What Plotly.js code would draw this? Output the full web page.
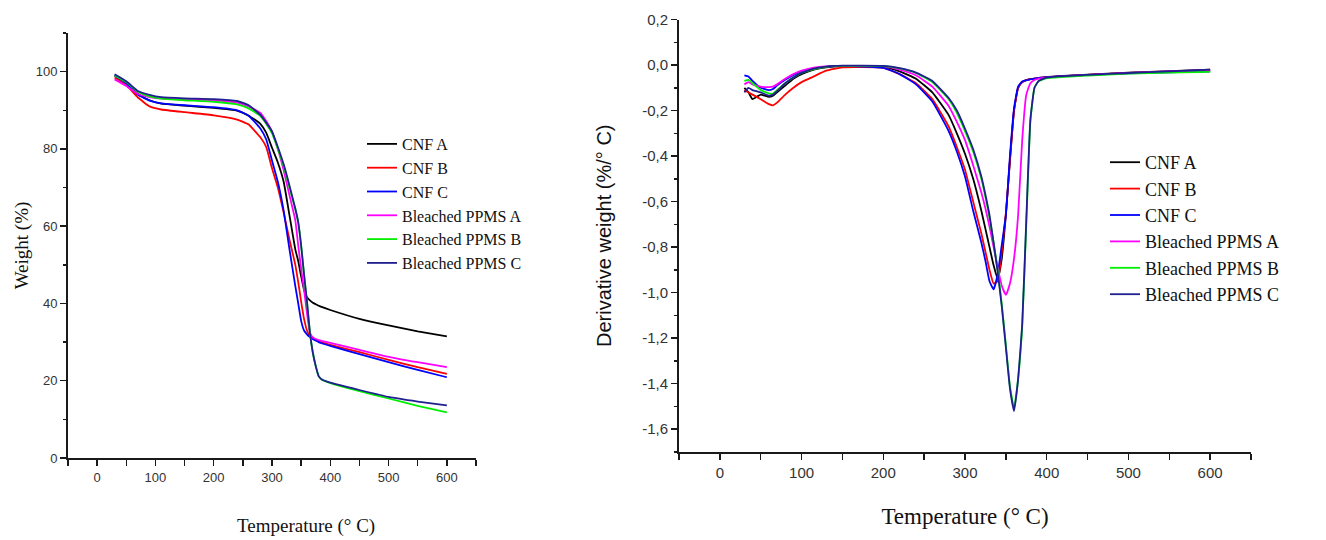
<!DOCTYPE html>
<html>
<head>
<meta charset="utf-8">
<script src="https://cdn.plot.ly/plotly-3.0.1.min.js"></script>
<style>html,body{margin:0;padding:0;background:#fff;}#chart{width:1326px;height:540px;}</style>
</head>
<body>
<div id="chart"></div>
<script>
// ---- Data: TGA (weight %) ----
const seriesNames = ["CNF A", "CNF B", "CNF C", "Bleached PPMS A", "Bleached PPMS B", "Bleached PPMS C"];
const seriesColors = ["#000000", "#ff0000", "#0000ff", "#ff00ff", "#00ee00", "#1f1f8f"];

const tgaT = [30, 50, 70, 90, 110, 150, 200, 240, 260, 280, 290, 300, 310, 320, 330, 340, 345, 350, 355, 360, 365, 370, 375, 380, 385, 400, 450, 500, 550, 600];
const cnfA_w  = [99.0, 97.0, 94.3, 92.6, 91.7, 91.2, 90.6, 89.9, 88.6, 86.5, 84.2, 80.3, 76.5, 71.5, 62.8, 54.0, 51.0, 47.0, 43.5, 41.6, 40.8, 40.2, 39.8, 39.4, 39.1, 38.3, 36.0, 34.3, 32.8, 31.5];
const cnfB_w  = [98.5, 96.5, 93.3, 91.0, 90.2, 89.5, 88.7, 87.6, 86.3, 83.0, 80.5, 75.0, 70.0, 63.5, 56.5, 50.0, 45.5, 40.5, 36.0, 33.0, 31.5, 30.9, 30.5, 30.2, 29.9, 29.3, 27.4, 25.4, 23.5, 21.8];
const cnfC_w  = [99.0, 97.0, 94.0, 92.5, 91.8, 91.3, 90.8, 90.0, 88.6, 85.3, 82.5, 77.0, 71.5, 64.0, 54.0, 44.5, 40.0, 35.5, 33.0, 32.0, 31.3, 30.8, 30.4, 30.0, 29.7, 29.0, 26.9, 24.8, 22.8, 20.9];
const ppmsA_w = [98.0, 96.3, 94.2, 93.4, 93.0, 92.8, 92.6, 92.0, 91.0, 89.3, 87.2, 84.5, 80.0, 74.5, 68.0, 61.5, 55.0, 49.0, 43.5, 37.5, 32.5, 31.2, 30.8, 30.5, 30.3, 29.8, 28.0, 26.2, 24.8, 23.5];
const ppmsB_w = [99.0, 97.3, 94.8, 93.6, 93.0, 92.6, 92.2, 91.5, 90.5, 88.5, 86.5, 84.0, 80.0, 75.5, 70.0, 64.5, 61.0, 55.0, 47.5, 40.5, 32.5, 27.3, 23.8, 21.2, 20.3, 19.4, 17.3, 15.4, 13.5, 11.8];
const ppmsC_w = [99.3, 97.5, 95.0, 94.0, 93.4, 93.1, 92.9, 92.4, 91.3, 88.8, 86.8, 84.5, 80.5, 76.0, 70.5, 64.5, 61.0, 55.0, 47.5, 40.5, 32.5, 27.3, 23.8, 21.2, 20.4, 19.5, 17.6, 15.8, 14.6, 13.6];

// ---- Data: DTG (derivative weight %/°C) ----
const dtgT = [30, 35, 40, 50, 60, 65, 70, 80, 90, 100, 115, 130, 150, 200, 220, 240, 260, 280, 290, 300, 310, 320, 325, 330, 335, 340, 345, 350, 355, 360, 365, 370, 375, 380, 385, 390, 400, 450, 500, 550, 600];
const cnfA_d  = [-0.10, -0.12, -0.15, -0.13, -0.14, -0.135, -0.12, -0.09, -0.06, -0.04, -0.02, -0.01, -0.005, -0.008, -0.028, -0.06, -0.12, -0.22, -0.30, -0.39, -0.50, -0.64, -0.72, -0.80, -0.88, -0.94, -0.85, -0.66, -0.42, -0.20, -0.10, -0.075, -0.066, -0.062, -0.06, -0.057, -0.052, -0.042, -0.033, -0.027, -0.02];
const cnfB_d  = [-0.11, -0.12, -0.13, -0.15, -0.172, -0.177, -0.165, -0.13, -0.10, -0.075, -0.05, -0.025, -0.01, -0.012, -0.04, -0.08, -0.15, -0.27, -0.36, -0.46, -0.60, -0.74, -0.82, -0.90, -0.96, -0.95, -0.82, -0.65, -0.42, -0.20, -0.10, -0.075, -0.066, -0.062, -0.06, -0.057, -0.053, -0.043, -0.035, -0.03, -0.025];
const cnfC_d  = [-0.045, -0.05, -0.07, -0.10, -0.11, -0.105, -0.09, -0.065, -0.045, -0.03, -0.015, -0.008, -0.004, -0.012, -0.04, -0.085, -0.16, -0.29, -0.38, -0.49, -0.64, -0.78, -0.86, -0.95, -0.985, -0.92, -0.79, -0.66, -0.40, -0.19, -0.095, -0.072, -0.067, -0.063, -0.06, -0.057, -0.053, -0.044, -0.037, -0.032, -0.028];
const ppmsA_d = [-0.085, -0.075, -0.085, -0.095, -0.097, -0.095, -0.085, -0.06, -0.04, -0.025, -0.012, -0.006, -0.004, -0.005, -0.02, -0.045, -0.095, -0.18, -0.25, -0.33, -0.44, -0.56, -0.63, -0.71, -0.80, -0.89, -0.97, -1.01, -0.96, -0.85, -0.66, -0.33, -0.13, -0.08, -0.066, -0.06, -0.055, -0.043, -0.035, -0.028, -0.022];
const ppmsB_d = [-0.07, -0.065, -0.08, -0.11, -0.125, -0.125, -0.11, -0.08, -0.055, -0.035, -0.018, -0.008, -0.004, -0.005, -0.015, -0.035, -0.075, -0.15, -0.21, -0.29, -0.38, -0.50, -0.58, -0.67, -0.78, -0.90, -1.05, -1.23, -1.41, -1.51, -1.38, -1.15, -0.70, -0.25, -0.10, -0.072, -0.058, -0.046, -0.038, -0.033, -0.03];
const ppmsC_d = [-0.12, -0.10, -0.11, -0.12, -0.135, -0.13, -0.115, -0.08, -0.055, -0.035, -0.016, -0.007, -0.003, -0.004, -0.014, -0.033, -0.07, -0.145, -0.20, -0.28, -0.37, -0.49, -0.57, -0.66, -0.78, -0.91, -1.06, -1.24, -1.42, -1.52, -1.38, -1.14, -0.68, -0.24, -0.10, -0.07, -0.055, -0.043, -0.035, -0.028, -0.02];

// ---- Tick labels ----
const tempTicks = [0, 100, 200, 300, 400, 500, 600];
const weightTicks = [0, 20, 40, 60, 80, 100];
const derivTicks = [0.2, 0, -0.2, -0.4, -0.6, -0.8, -1.0, -1.2, -1.4, -1.6];
const derivTickText = ["0,2", "0,0", "-0,2", "-0,4", "-0,6", "-0,8", "-1,0", "-1,2", "-1,4", "-1,6"];

const tgaSeries = [cnfA_w, cnfB_w, cnfC_w, ppmsA_w, ppmsB_w, ppmsC_w];
const dtgSeries = [cnfA_d, cnfB_d, cnfC_d, ppmsA_d, ppmsB_d, ppmsC_d];

const SERIF = "Liberation Serif, Times New Roman, serif";
const SANS = "Liberation Sans, Arial, sans-serif";

const traces = [];
tgaSeries.forEach((w, i) => {
  traces.push({
    x: tgaT, y: w, name: seriesNames[i], type: "scatter", mode: "lines",
    line: {color: seriesColors[i], width: 1.8, shape: "spline", smoothing: 0.4},
    xaxis: "x", yaxis: "y", legend: "legend"
  });
});
dtgSeries.forEach((d, i) => {
  traces.push({
    x: dtgT, y: d, name: seriesNames[i], type: "scatter", mode: "lines",
    line: {color: seriesColors[i], width: 1.8, shape: "spline", smoothing: 0.4},
    xaxis: "x2", yaxis: "y2", legend: "legend2"
  });
});

const axisBase = {
  showline: true, linecolor: "#1a1a1a", linewidth: 2,
  ticks: "outside", ticklen: 6, tickwidth: 1.5, tickcolor: "#1a1a1a",
  showgrid: false, zeroline: false, mirror: false, automargin: false
};

const M = {l: 60, r: 20, t: 15, b: 80};
const PW = 1326 - M.l - M.r, PH = 540 - M.t - M.b;
const px2x = p => (p - M.l) / PW;
const px2y = p => (540 - M.b - p) / PH;
const dx = (a, b) => [px2x(a), px2x(b)];
const dy = (top, bot) => [px2y(bot), px2y(top)];

const layout = {
  width: 1326, height: 540,
  margin: M,
  paper_bgcolor: "#ffffff", plot_bgcolor: "#ffffff",
  showlegend: true,
  xaxis: Object.assign({}, axisBase, {
    domain: dx(68, 476), anchor: "y", range: [-50, 650],
    tickvals: tempTicks,
    minor: {ticks: "outside", ticklen: 6, tickwidth: 1.5, tickcolor: "#1a1a1a", dtick: 50, tick0: 0, showgrid: false},
    tickfont: {family: SANS, size: 13, color: "#333"}
  }),
  yaxis: Object.assign({}, axisBase, {
    domain: dy(33, 458), anchor: "x", range: [0, 110],
    tickvals: weightTicks,
    minor: {ticks: "outside", ticklen: 3, tickwidth: 1.5, tickcolor: "#1a1a1a", dtick: 10, tick0: 0, showgrid: false},
    tickfont: {family: SANS, size: 13, color: "#333"},
    title: {text: "Weight (%)", font: {family: SERIF, size: 19, color: "#111"}, standoff: 2}
  }),
  xaxis2: Object.assign({}, axisBase, {
    domain: dx(679, 1251), anchor: "y2", range: [-50, 650],
    tickvals: tempTicks,
    minor: {ticks: "outside", ticklen: 6, tickwidth: 1.5, tickcolor: "#1a1a1a", dtick: 50, tick0: 0, showgrid: false},
    tickfont: {family: SANS, size: 15, color: "#333"},
    title: {text: "Temperature (° C)", font: {family: SERIF, size: 23, color: "#111"}, standoff: 28}
  }),
  yaxis2: Object.assign({}, axisBase, {
    domain: dy(19.5, 452), anchor: "x2", range: [-1.7, 0.2],
    tickvals: derivTicks, ticktext: derivTickText,
    minor: {ticks: "outside", ticklen: 3, tickwidth: 1.5, tickcolor: "#1a1a1a", dtick: 0.1, tick0: 0, showgrid: false},
    tickfont: {family: SANS, size: 15, color: "#333"},
    title: {text: "Derivative weight (%/° C)", font: {family: SANS, size: 20, color: "#111"}, standoff: 25}
  }),
  annotations: [{
    text: "Temperature (° C)", xref: "paper", yref: "paper",
    x: px2x(306), y: px2y(526), xanchor: "center", yanchor: "middle",
    showarrow: false, font: {family: SERIF, size: 19, color: "#111"}
  }],
  legend: {
    x: px2x(362), y: px2y(127),
    xanchor: "left", yanchor: "top", bgcolor: "rgba(0,0,0,0)", borderwidth: 0,
    font: {family: SERIF, size: 16, color: "#111"}, tracegroupgap: 0
  },
  legend2: {
    x: px2x(1105), y: px2y(144),
    xanchor: "left", yanchor: "top", bgcolor: "rgba(0,0,0,0)", borderwidth: 0,
    font: {family: SERIF, size: 18, color: "#111"}, tracegroupgap: 0
  }
};

Plotly.newPlot("chart", traces, layout, {displayModeBar: false, staticPlot: true});
</script>
</body>
</html>
